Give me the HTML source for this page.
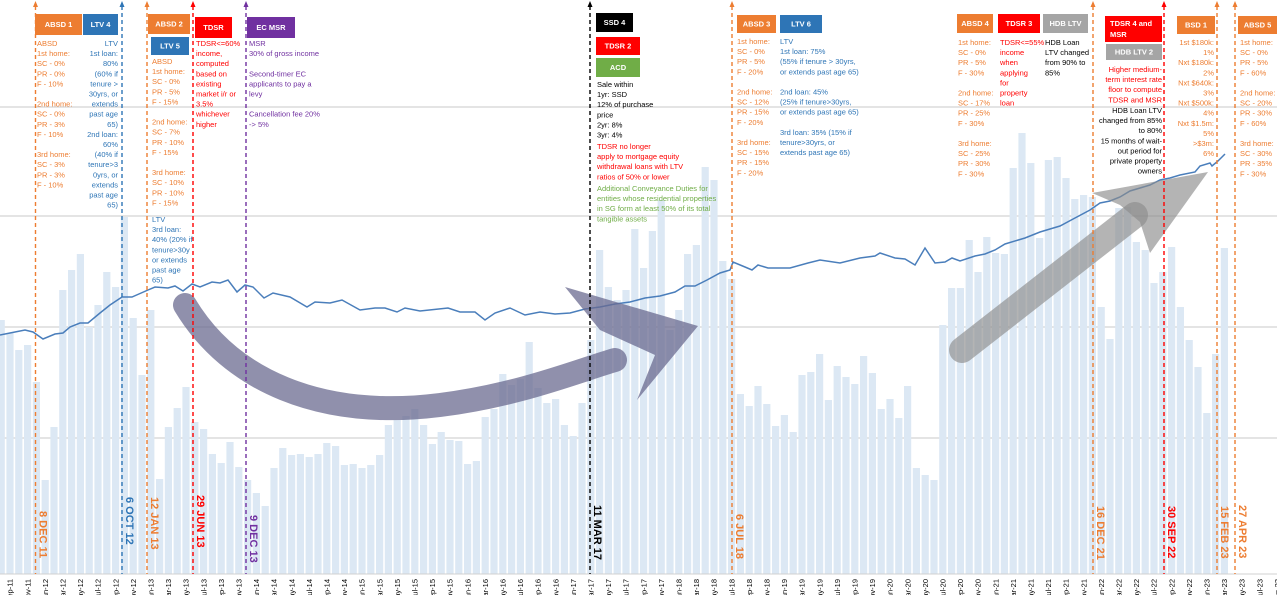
<!DOCTYPE html>
<html><head><meta charset="utf-8">
<style>
html,body{margin:0;padding:0;background:#fff;}
svg{display:block;font-family:"Liberation Sans",sans-serif;}
</style></head>
<body>
<svg id="s" width="1277" height="595" viewBox="0 0 1277 595" xmlns="http://www.w3.org/2000/svg">
<g id="grid" stroke="#d4d4d4" stroke-width="1.2">
<line x1="0" y1="107" x2="1277" y2="107"/><line x1="0" y1="216" x2="1277" y2="216"/>
<line x1="0" y1="327" x2="1277" y2="327"/><line x1="0" y1="438" x2="1277" y2="438"/>
</g>
<g id="bars" fill="#dce8f4"></g>
<line x1="0" y1="574" x2="1277" y2="574" stroke="#d0d0d0" stroke-width="1"/>
<g id="xl" font-size="7.5" fill="#000"></g>
<polyline id="pl" fill="none" stroke="#4a7ebb" stroke-width="1.5"/>
<!-- left curved arrow -->
<path d="M185,305 C230,380 320,420 440,405 C520,395 580,370 615,360" fill="none" stroke="#6b6b90" stroke-opacity="0.75" stroke-width="24" stroke-linecap="round"/>
<polygon points="565,287 698,326 637,400 655,355 600,330" fill="#6b6b90" fill-opacity="0.75"/>
<!-- right straight arrow -->
<line x1="962" y1="350" x2="1135" y2="215" stroke="#8c8c8c" stroke-opacity="0.65" stroke-width="26" stroke-linecap="round"/>
<polygon points="1092,193 1208,172 1150,253 1140,222 1120,205" fill="#8c8c8c" fill-opacity="0.65"/>
<g id="vl"></g>
<g id="boxes" font-size="7.5" font-weight="bold" fill="#fff"></g>
<g id="txt" font-size="7.5"></g>
<g id="dates" font-size="11" font-weight="bold"></g>
</svg>
<script>
var NS="http://www.w3.org/2000/svg";
function el(p,t,a,txt){var e=document.createElementNS(NS,t);for(var k in a)e.setAttribute(k,a[k]);if(txt!==undefined)e.textContent=txt;document.getElementById(p).appendChild(e);return e;}
var kp=[[1,320],[7.5,333],[17,350],[26,345],[34,382],[43,480],[52,427],[61,290],[70,270],[78,254],[87,327],[96,305],[105,272],[113,287],[122,217],[132,318],[140,375],[150,310],[158,479],[167,427],[175,408],[184,387],[194,422],[202,429],[210,454],[218,463],[228,442],[237,467],[245,480],[253,493],[262,506],[273,468],[282,448],[290,455],[298,454],[307,457],[317,454],[325,443],[333,446],[342,465],[350,464],[358,468],[368,465],[377,455],[387,425],[395,420],[403,416],[412,409],[422,425],[431,444],[440,432],[449,440],[458,441],[466,464],[475,461],[485,417],[493,409],[502,374],[510,385],[519,379],[528,342],[537,388],[546,403],[554,399],[563,425],[572,436],[581,403],[590,340],[598,250],[607,287],[616,300],[625,290],[634,229],[642,268],[652,231],[661,200],[670,330],[678,310],[687,254],[696,245],[705,167],[713,180],[722,261],[730,279],[740,394],[749,406],[757,386],[766,404],[775,426],[784,415],[792,432],[801,375],[809,372],[819,354],[827,400],[836,366],[845,377],[854,384],[863,356],[872,373],[881,409],[889,399],[898,418],[908,386],[915,468],[922,475],[929,526],[936,480],[943,325],[952,288],[960,288],[969,240],[977,272],[987,237],[995,253],[1005,254],[1013,168],[1022,133],[1031,163],[1039,238],[1048,160],[1057,157],[1066,178],[1075,199],[1084,195],[1093,197],[1101,307],[1110,339],[1119,208],[1127,207],[1136,242],[1145,250],[1153,283],[1162,272],[1171,247],[1180,307],[1188,340],[1197,367],[1207,413],[1216,354],[1225,248]];
function topAt(x){var b=kp[0],d=1e9;for(var j=0;j<kp.length;j++){var dd=Math.abs(kp[j][0]-x);if(dd<d){d=dd;b=kp[j];}}return b[1];}
for(var i=-1;i<=138;i++){var x=10+8.8*i;var t=topAt(x);el("bars","rect",{x:(x-3.6).toFixed(1),y:t,width:7.2,height:574-t});}
var mn=["Jan","Mar","May","Jul","Sep","Nov"];
for(var i=0;i<=144;i+=2){var x=10+8.8*i;var m=(8+i)%12;var y=11+Math.floor((8+i)/12);var lab=["Jan","Feb","Mar","Apr","May","Jun","Jul","Aug","Sep","Oct","Nov","Dec"][m]+"-"+y;
el("xl","text",{x:0,y:0,transform:"translate("+(x+2.7).toFixed(1)+",579) rotate(-90)","text-anchor":"end"},lab);}
var lp=[[0,335],[10,333],[25,330],[33,332],[43,339],[55,334],[63,333],[70,327],[80,323],[88,323],[100,313],[110,305],[122,297],[132,297],[148,290],[155,287],[168,288],[175,286],[183,291],[192,284],[200,287],[212,282],[220,283],[228,280],[237,292],[245,285],[253,287],[264,298],[273,293],[290,297],[307,307],[315,302],[330,303],[342,300],[360,310],[375,308],[385,308],[397,312],[405,308],[420,311],[448,308],[460,312],[475,312],[485,320],[495,313],[510,308],[525,315],[540,312],[555,314],[570,313],[585,309],[600,307],[615,304],[630,302],[645,298],[660,296],[675,292],[685,286],[695,286],[707,280],[720,273],[730,270],[733,262],[745,267],[752,270],[758,265],[768,268],[790,268],[808,263],[820,260],[840,263],[860,258],[875,256],[880,253],[895,258],[905,259],[915,265],[925,248],[935,263],[945,262],[952,258],[960,261],[975,256],[985,254],[995,250],[1005,244],[1025,238],[1040,232],[1050,229],[1060,226],[1075,218],[1090,210],[1100,203],[1110,201],[1120,197],[1130,191],[1150,185],[1160,180],[1170,178],[1180,175],[1195,172],[1200,166],[1210,163],[1212,166],[1218,161],[1225,154]];
document.getElementById("pl").setAttribute("points",lp.map(function(p){return p.join(",")}).join(" "));
var OR="#ed7d31",BL="#2e75b6",RD="#ff0000",PU="#7030a0",BK="#000",GR="#70ad47",GY="#a5a5a5";
var vls=[[35.5,OR],[122,BL],[147,OR],[193,RD],[246,PU],[590,BK],[732,OR],[1093,OR],[1164,RD],[1217,OR],[1235,OR]];
vls.forEach(function(v){el("vl","line",{x1:v[0],y1:6,x2:v[0],y2:574,stroke:v[1],"stroke-width":1.4,"stroke-dasharray":"4,3"});el("vl","polygon",{points:(v[0]-2.5)+",7 "+(v[0]+2.5)+",7 "+v[0]+",1",fill:v[1]});});
var bx=[[35,14,47,21,OR,"ABSD 1"],[83,14,35,21,BL,"LTV 4"],[148,14,42,20,OR,"ABSD 2"],[151,37,38,18,BL,"LTV 5"],[195,17,37,21,RD,"TDSR"],[247,17,48,21,PU,"EC MSR"],[596,13,37,19,BK,"SSD 4"],[596,37,44,18,RD,"TDSR 2"],[596,58,44,19,GR,"ACD"],[737,15,39,18,OR,"ABSD 3"],[780,15,42,18,BL,"LTV 6"],[957,14,36,19,OR,"ABSD 4"],[998,14,42,19,RD,"TDSR 3"],[1043,14,45,19,GY,"HDB LTV"],[1105,16,57,26,RD,""],[1106,44,56,16,GY,"HDB LTV 2"],[1177,16,38,18,OR,"BSD 1"],[1238,16,39,18,OR,"ABSD 5"]];
bx.forEach(function(b){el("boxes","rect",{x:b[0],y:b[1],width:b[2],height:b[3],fill:b[4]});if(b[5])el("boxes","text",{x:b[0]+b[2]/2,y:b[1]+b[3]/2+2.7,"text-anchor":"middle"},b[5]);});
el("boxes","text",{x:1110,y:26},"TDSR 4 and");el("boxes","text",{x:1110,y:37},"MSR");
function blk(x,y,lines,c,anc){lines.forEach(function(l){if(l!=="")el("txt","text",{x:x,y:y,fill:c,"text-anchor":anc||"start"},l);y+=10.1;});return y;}
blk(37,46,["ABSD","1st home:","SC - 0%","PR - 0%","F - 10%","","2nd home:","SC - 0%","PR - 3%","F - 10%","","3rd home:","SC - 3%","PR - 3%","F - 10%"],OR);
blk(118,46,["LTV","1st loan:","80%","(60% if","tenure >","30yrs, or","extends","past age","65)","2nd loan:","60%","(40% if","tenure>3","0yrs, or","extends","past age","65)"],BL,"end");
var yy=blk(152,64,["ABSD","1st home:","SC - 0%","PR - 5%","F - 15%","","2nd home:","SC - 7%","PR - 10%","F - 15%","","3rd home:","SC - 10%","PR - 10%","F - 15%"],OR);
blk(152,222,["LTV","3rd loan:","40% (20% if","tenure>30y","or extends","past age","65)"],BL);
blk(196,46,["TDSR<=60%","income,","computed","based on","existing","market i/r or","3.5%","whichever","higher"],RD);
blk(249,46,["MSR","30% of gross  income","","Second-timer EC","applicants to pay a","levy","","Cancellation fee 20%","-> 5%"],PU);
blk(597,87,["Sale within","1yr: SSD","12% of purchase","price","2yr: 8%","3yr: 4%"],BK);
blk(597,149,["TDSR no longer","apply to mortgage equity","withdrawal loans with LTV","ratios of 50% or lower"],RD);
blk(597,191,["Additional Conveyance Duties for","entities whose residential properties","in SG form at least 50% of its total","tangible assets"],GR);
blk(737,44,["1st home:","SC - 0%","PR - 5%","F - 20%","","2nd home:","SC - 12%","PR - 15%","F - 20%","","3rd home:","SC - 15%","PR - 15%","F - 20%"],OR);
blk(780,44,["LTV","1st loan: 75%","(55% if tenure > 30yrs,","or extends past age 65)","","2nd loan: 45%","(25% if tenure>30yrs,","or extends past age 65)","","3rd loan: 35% (15% if","tenure>30yrs, or","extends past age 65)"],BL);
blk(958,45,["1st home:","SC - 0%","PR - 5%","F - 30%","","2nd home:","SC - 17%","PR - 25%","F - 30%","","3rd home:","SC - 25%","PR - 30%","F - 30%"],OR);
blk(1000,45,["TDSR<=55%","income","when","applying","for","property","loan"],RD);
blk(1045,45,["HDB Loan","LTV changed","from 90% to","85%"],BK);
blk(1162,72,["Higher medium-","term interest rate","floor to compute","TDSR and MSR"],RD,"end");
blk(1162,113,["HDB Loan LTV","changed from 85%","to 80%","15 months of wait-","out period for","private property","owners"],BK,"end");
blk(1214,45,["1st $180k:","1%","Nxt $180k:","2%","Nxt $640k:","3%","Nxt $500k:","4%","Nxt $1.5m:","5%",">$3m:","6%"],OR,"end");
blk(1240,45,["1st home:","SC - 0%","PR - 5%","F - 60%","","2nd home:","SC - 20%","PR - 30%","F - 60%","","3rd home:","SC - 30%","PR - 35%","F - 30%"],OR);
var dl=[[35.5,OR,"8 DEC 11",511],[122,BL,"6 OCT 12",497],[147,OR,"12 JAN 13",497],[193,RD,"29 JUN 13",495],[246,PU,"9 DEC 13",515],[590,BK,"11 MAR 17",505],[732,OR,"6 JUL 18",514],[1093,OR,"16 DEC 21",506],[1164,RD,"30 SEP 22",506],[1217,OR,"15 FEB 23",506],[1235,OR,"27 APR 23",505]];
dl.forEach(function(d){el("dates","text",{x:0,y:0,fill:d[1],transform:"translate("+(d[0]+4)+","+d[3]+") rotate(90)"},d[2]);});
</script>
</body></html>
